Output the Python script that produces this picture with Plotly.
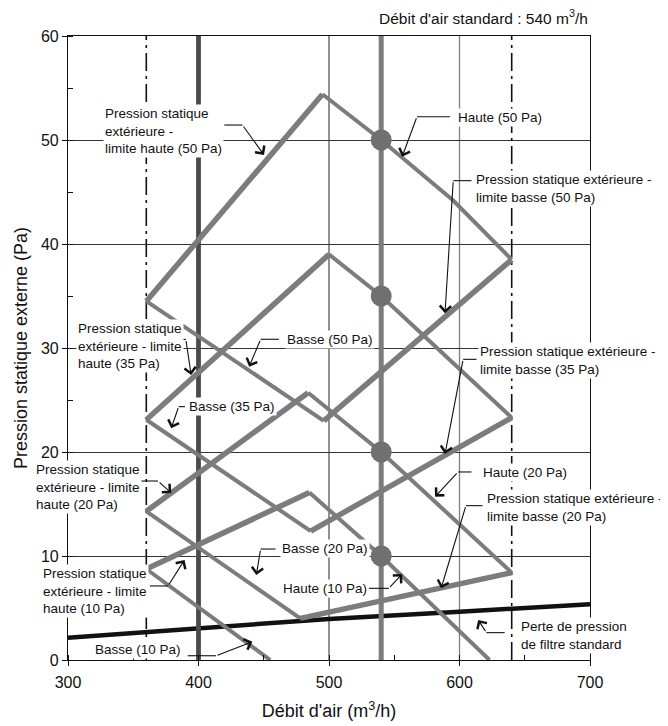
import plotly.graph_objects as go

# ---------------- data ----------------
x_ticks = [300, 400, 500, 600, 700]
y_ticks = [0, 10, 20, 30, 40, 50, 60]

flow_min = 360      # dash-dot limit
flow_max = 640      # dash-dot limit
flow_400 = 400      # dark vertical line
flow_std = 540      # standard air flow

# 50 Pa setting
lim_haute_50_x = [360, 495]
lim_haute_50_y = [34.5, 54.4]
haute_50_x = [495, 540, 595, 640]
haute_50_y = [54.4, 50.0, 44.2, 38.5]
basse_50_x = [360, 496]
basse_50_y = [34.5, 23.0]
lim_basse_50_x = [496, 640]
lim_basse_50_y = [23.0, 38.5]

# 35 Pa setting
lim_haute_35_x = [360, 500]
lim_haute_35_y = [23.1, 39.0]
haute_35_x = [500, 540, 640]
haute_35_y = [39.0, 35.0, 23.3]
basse_35_x = [360, 486]
basse_35_y = [23.1, 12.4]
lim_basse_35_x = [486, 640]
lim_basse_35_y = [12.4, 23.3]

# 20 Pa setting
lim_haute_20_x = [360, 484]
lim_haute_20_y = [14.3, 25.7]
haute_20_x = [484, 540, 640]
haute_20_y = [25.7, 20.0, 8.4]
basse_20_x = [360, 478]
basse_20_y = [14.3, 4.0]
lim_basse_20_x = [478, 640]
lim_basse_20_y = [4.0, 8.4]

# 10 Pa setting
lim_haute_10_x = [360, 485]
lim_haute_10_y = [8.75, 16.1]
haute_10_x = [485, 540, 623]
haute_10_y = [16.1, 10.0, 0.0]
basse_10_x = [360, 455]
basse_10_y = [8.75, 0.0]

# standard filter pressure loss
filter_x = [300, 400, 500, 600, 700]
filter_y = [2.15, 3.05, 3.95, 4.65, 5.35]

# operating points at standard flow
dot_y = [50, 35, 20, 10]

# labels: text, x, y (data units), xanchor
labels = [
    ("Pression statique<br>extérieure -<br>limite haute (50 Pa)", 327.0, 50.87, "left"),
    ("Haute (50 Pa)", 597.5, 52.18, "left"),
    ("Pression statique extérieure -<br>limite basse (50 Pa)", 611.0, 45.32, "left"),
    ("Pression statique<br>extérieure - limite<br>haute (35 Pa)", 306.2, 30.19, "left"),
    ("Basse (50 Pa)", 466.4, 30.84, "left"),
    ("Pression statique extérieure -<br>limite basse (35 Pa)", 614.0, 28.76, "left"),
    ("Basse (35 Pa)", 391.0, 24.36, "left"),
    ("Pression statique<br>extérieure - limite<br>haute (20 Pa)", 274.2, 16.61, "left"),
    ("Pression statique<br>extérieure - limite<br>haute (10 Pa)", 279.4, 6.66, "left"),
    ("Basse (20 Pa)", 462.6, 10.74, "left"),
    ("Haute (10 Pa)", 530.8, 6.89, "right"),
    ("Haute (20 Pa)", 616.6, 18.01, "left"),
    ("Pression statique extérieure -<br>limite basse (20 Pa)", 619.3, 14.65, "left"),
    ("Perte de pression<br>de filtre standard", 645.3, 2.32, "left"),
    ("Basse (10 Pa)", 388.5, 1.04, "right"),
]

# leaders: stub start x, bend x, stub y, arrow tip x, arrow tip y
leaders = [
    (419.8, 433.7, 51.44, 450.2, 48.56),
    (592.7, 567.4, 52.24, 556.0, 48.39),
    (609.2, 595.2, 46.09, 588.9, 33.34),
    (386.0, 390.3, 30.82, 394.4, 27.40),
    (461.6, 447.6, 30.84, 438.8, 28.20),
    (613.0, 602.8, 28.91, 588.9, 19.81),
    (389.6, 384.8, 24.36, 379.1, 22.28),
    (355.1, 369.0, 17.21, 379.1, 16.06),
    (362.7, 376.6, 7.12, 389.3, 9.62),
    (459.0, 447.6, 10.67, 444.3, 8.17),
    (530.6, 545.8, 6.89, 556.0, 8.27),
    (609.2, 599.0, 18.08, 581.3, 15.70),
    (617.6, 604.9, 14.84, 585.9, 6.89),
    (634.6, 620.6, 2.63, 614.3, 3.85),
    (391.8, 413.4, 0.41, 441.3, 1.76),
]

# ---------------- figure ----------------
FONT = "Arial, Liberation Sans, Helvetica, sans-serif"
GRAY = "#7c7c7c"
THICK = 5.5
THIN = 4.0

fig = go.Figure()

def line(x, y, color, width, dash=None):
    fig.add_trace(go.Scatter(x=x, y=y, mode="lines",
                             line=dict(color=color, width=width, dash=dash),
                             hoverinfo="skip", showlegend=False))

# filter loss line
line(filter_x, filter_y, "#111111", 4.5)

# vertical reference lines
line([flow_min, flow_min], [0, 60], "#111111", 1.6, "18px,5px,3px,5px")
line([flow_max, flow_max], [0, 60], "#111111", 1.6, "18px,5px,3px,5px")
line([flow_400, flow_400], [0, 60], "#4a4a4a", 4.8)
line([flow_std, flow_std], [0, 60], GRAY, 5)

# fan curves (thinner) and ESP limit curves (thicker)
for xs, ys in [(haute_50_x, haute_50_y), (basse_50_x, basse_50_y),
               (haute_35_x, haute_35_y), (basse_35_x, basse_35_y),
               (haute_20_x, haute_20_y), (basse_20_x, basse_20_y),
               (haute_10_x, haute_10_y), (basse_10_x, basse_10_y)]:
    line(xs, ys, GRAY, THIN)
for xs, ys in [(lim_haute_50_x, lim_haute_50_y), (lim_basse_50_x, lim_basse_50_y),
               (lim_haute_35_x, lim_haute_35_y), (lim_basse_35_x, lim_basse_35_y),
               (lim_haute_20_x, lim_haute_20_y), (lim_basse_20_x, lim_basse_20_y),
               (lim_haute_10_x, lim_haute_10_y)]:
    line(xs, ys, GRAY, THICK)

# operating points
fig.add_trace(go.Scatter(x=[flow_std] * len(dot_y), y=dot_y, mode="markers",
                         marker=dict(size=21, color="#707070"),
                         hoverinfo="skip", showlegend=False))

# vertical gridlines
fig.add_shape(type="line", x0=500, x1=500, y0=0, y1=60, xref="x", yref="y",
              line=dict(color="#222222", width=1), layer="below")
fig.add_shape(type="line", x0=600, x1=600, y0=0, y1=60, xref="x", yref="y",
              line=dict(color="#808080", width=1.3), layer="below")

# label texts (white background hides lines behind them)
for text, lx, ly, xa in labels:
    fig.add_annotation(text=text, x=(lx - 300) / 400, y=ly / 60,
                       xref="paper", yref="paper", xanchor=xa, yanchor="middle",
                       align="left", showarrow=False, bgcolor="white",
                       borderpad=1, font=dict(family=FONT, size=13.5, color="#111111"))

# leaders
for x0, x1, yl, tx, ty in leaders:
    fig.add_shape(type="line", x0=x0, x1=x1, y0=yl, y1=yl, xref="x", yref="y",
                  line=dict(color="#111111", width=1.1), layer="above")
    fig.add_annotation(text="", x=tx, y=ty, ax=x1, ay=yl, xref="x", yref="y",
                       axref="x", ayref="y", showarrow=True, arrowhead=4,
                       arrowsize=2, arrowwidth=1.1, arrowcolor="#111111",
                       standoff=0, startstandoff=0)

# top note
fig.add_annotation(text="Débit d'air standard : 540 m<sup>3</sup>/h",
                   x=1.0, y=(660 - 17.3) / 624, xref="paper", yref="paper",
                   xanchor="right", yanchor="middle", showarrow=False,
                   font=dict(family=FONT, size=15.5, color="#111111"))

# the page adds an 8px body margin, so shift the plot area up/left by 8px
fig.update_layout(
    width=668, height=726,
    margin=dict(l=56, r=86, t=28, b=74),
    paper_bgcolor="white", plot_bgcolor="white",
    font=dict(family=FONT, color="#111111"),
    hovermode=False,
    showlegend=False,
    xaxis=dict(
        range=[300, 700], tickvals=x_ticks, ticktext=[str(v) for v in x_ticks],
        showgrid=False, zeroline=False,
        showline=True, linecolor="#111111", linewidth=1.2, mirror=True,
        ticks="outside", ticklen=5, tickcolor="#111111", tickwidth=1.2,
        ticklabelstandoff=3,
        minor=dict(dtick=50, ticks="inside", ticklen=5, tickcolor="#111111", tickwidth=1.2, showgrid=False),
        tickfont=dict(family=FONT, size=16, color="#111111"),
        title=dict(text="Débit d'air (m<sup>3</sup>/h)", standoff=14,
                   font=dict(family=FONT, size=18, color="#111111")),
    ),
    yaxis=dict(
        range=[0, 60], tickvals=y_ticks, ticktext=[str(v) for v in y_ticks],
        showgrid=True, gridcolor="#333333", gridwidth=1, zeroline=False,
        showline=True, linecolor="#111111", linewidth=1.2, mirror=True,
        ticks="outside", ticklen=5, tickcolor="#111111", tickwidth=1.2,
        minor=dict(dtick=5, ticks="inside", ticklen=5, tickcolor="#111111", tickwidth=1.2, showgrid=False),
        tickfont=dict(family=FONT, size=16, color="#111111"),
        title=dict(text="Pression statique externe (Pa)", standoff=8,
                   font=dict(family=FONT, size=18, color="#111111")),
    ),
)

fig.write_html("out.html")
